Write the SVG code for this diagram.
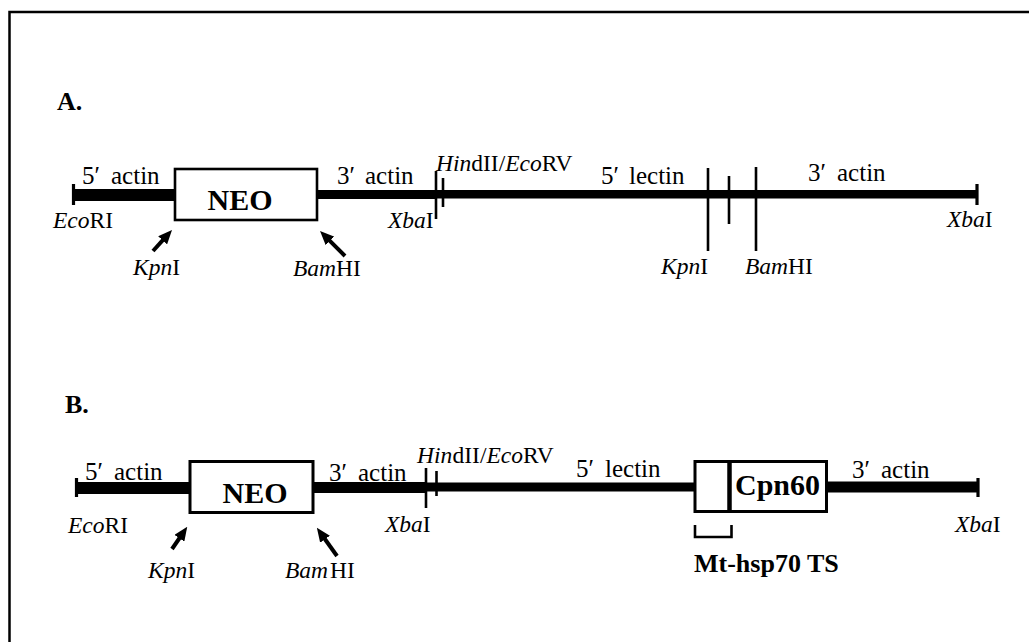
<svg xmlns="http://www.w3.org/2000/svg" width="1029" height="642" viewBox="0 0 1029 642">
<style>
text{font-family:"Liberation Serif","Times New Roman",serif;fill:#000}
.lbl{font-size:23.5px}
.big{font-size:25px}
.hd{font-size:26px;font-weight:bold}
.gene{font-size:30px;font-weight:bold}
.it{font-style:italic}
.box{fill:#fff;stroke:#000;stroke-width:2.6}
.tick{stroke:#000;stroke-width:2.6;fill:none}
.end{stroke:#000;stroke-width:3.2}
.bar{fill:#000}
.arr{stroke:#000;stroke-width:4;fill:none;marker-end:url(#ah)}
</style>
<defs>
<marker id="ah" markerUnits="userSpaceOnUse" markerWidth="14" markerHeight="12" viewBox="0 0 14 12" refX="4" refY="6" orient="auto">
<path d="M0,0 L14,6 L0,12 z" fill="#000"/>
</marker>
</defs>
<rect width="1029" height="642" fill="#fff"/>
<path id="frame" d="M9.5,642 V12 H1029" fill="none" stroke="#000" stroke-width="2.5"/>

<!-- Panel A -->
<g id="panelA">
<text x="57" y="110" class="hd">A.</text>
<g id="backboneA">
<rect class="bar" x="73" y="189" width="103" height="12"/>
<rect class="bar" x="316" y="190" width="121" height="9"/>
<rect class="bar" x="436" y="190" width="542" height="8.5"/>
<line class="end" x1="73.5" y1="184" x2="73.5" y2="205"/>
<line class="end" x1="977" y1="184" x2="977" y2="205"/>
</g>
<g id="neoA">
<rect class="box" x="175" y="169" width="142" height="51"/>
<text x="240" y="210" class="gene" text-anchor="middle">NEO</text>
</g>
<g id="sitesA">
<line class="tick" x1="436" y1="171" x2="436" y2="219"/>
<line class="tick" x1="443" y1="178" x2="443" y2="207"/>
<line class="tick" x1="708" y1="168" x2="708" y2="251"/>
<line class="tick" x1="729" y1="176" x2="729" y2="224"/>
<line class="tick" x1="756" y1="167" x2="756" y2="251"/>
</g>
<g id="labelsA">
<text class="big" y="184"><tspan x="82">5′</tspan><tspan x="111">actin</tspan></text>
<text class="big" y="184"><tspan x="337">3′</tspan><tspan x="365">actin</tspan></text>
<text class="lbl" x="436" y="171"><tspan class="it">Hin</tspan>dII/<tspan class="it">Eco</tspan>RV</text>
<text class="big" y="184"><tspan x="601">5′</tspan><tspan x="629">lectin</tspan></text>
<text class="big" y="181"><tspan x="808">3′</tspan><tspan x="837">actin</tspan></text>
<text class="lbl" x="53" y="228"><tspan class="it">Eco</tspan>RI</text>
<text class="lbl" x="133" y="275"><tspan class="it">Kpn</tspan>I</text>
<text class="lbl" x="293" y="276"><tspan class="it">Bam</tspan>HI</text>
<text class="lbl" x="388" y="228"><tspan class="it">Xba</tspan>I</text>
<text class="lbl" x="661" y="274"><tspan class="it">Kpn</tspan>I</text>
<text class="lbl" x="745" y="274"><tspan class="it">Bam</tspan>HI</text>
<text class="lbl" x="947" y="227"><tspan class="it">Xba</tspan>I</text>
</g>
</g>

<!-- Panel B -->
<g id="panelB">
<text x="65" y="413" class="hd">B.</text>
<g id="backboneB">
<rect class="bar" x="76" y="482" width="115" height="12"/>
<rect class="bar" x="312" y="482" width="115" height="11"/>
<rect class="bar" x="426" y="482.5" width="270" height="9"/>
<rect class="bar" x="825" y="481.5" width="153" height="11"/>
<line class="end" x1="76.5" y1="478" x2="76.5" y2="497"/>
<line class="end" x1="978" y1="478" x2="978" y2="497"/>
</g>
<g id="neoB">
<rect class="box" x="190" y="461.5" width="123" height="51" style="stroke-width:3"/>
<text x="255" y="503" class="gene" text-anchor="middle">NEO</text>
</g>
<g id="cpn60B">
<rect class="box" x="695" y="461.5" width="131.5" height="50" style="stroke-width:3"/>
<line x1="729.5" y1="461.5" x2="729.5" y2="511.5" stroke="#000" stroke-width="4.5"/>
<text x="735" y="495" class="gene">Cpn60</text>
</g>
<g id="sitesB">
<line class="tick" x1="426" y1="468" x2="426" y2="508"/>
<line class="tick" x1="436.5" y1="471" x2="436.5" y2="496"/>
</g>
<g id="tsB">
<path class="tick" d="M695,525 V537 H731.5 V525"/>
<text x="694" y="572" class="hd">Mt-hsp70 TS</text>
</g>
<g id="labelsB">
<text class="big" y="480"><tspan x="85">5′</tspan><tspan x="114">actin</tspan></text>
<text class="big" y="480.5"><tspan x="329">3′</tspan><tspan x="358">actin</tspan></text>
<text class="lbl" y="463"><tspan x="417" class="it">Hin</tspan><tspan x="452.5">dII/</tspan><tspan class="it">Eco</tspan>RV</text>
<text class="big" y="477"><tspan x="576">5′</tspan><tspan x="605">lectin</tspan></text>
<text class="big" y="478"><tspan x="852">3′</tspan><tspan x="881">actin</tspan></text>
<text class="lbl" x="68" y="533"><tspan class="it">Eco</tspan>RI</text>
<text class="lbl" x="148" y="578"><tspan class="it">Kpn</tspan>I</text>
<text class="lbl" y="578"><tspan x="285" class="it">Bam</tspan><tspan x="330">HI</tspan></text>
<text class="lbl" x="385" y="532"><tspan class="it">Xba</tspan>I</text>
<text class="lbl" x="955" y="532"><tspan class="it">Xba</tspan>I</text>
</g>
</g>

<g id="connectors">
<line class="arr" x1="153" y1="251" x2="165.3" y2="237.4"/>
<line class="arr" x1="345" y1="256" x2="327.1" y2="238.1"/>
<line class="arr" x1="172" y1="549" x2="181.6" y2="535"/>
<line class="arr" x1="337" y1="556" x2="322.7" y2="536"/>
</g>
</svg>
